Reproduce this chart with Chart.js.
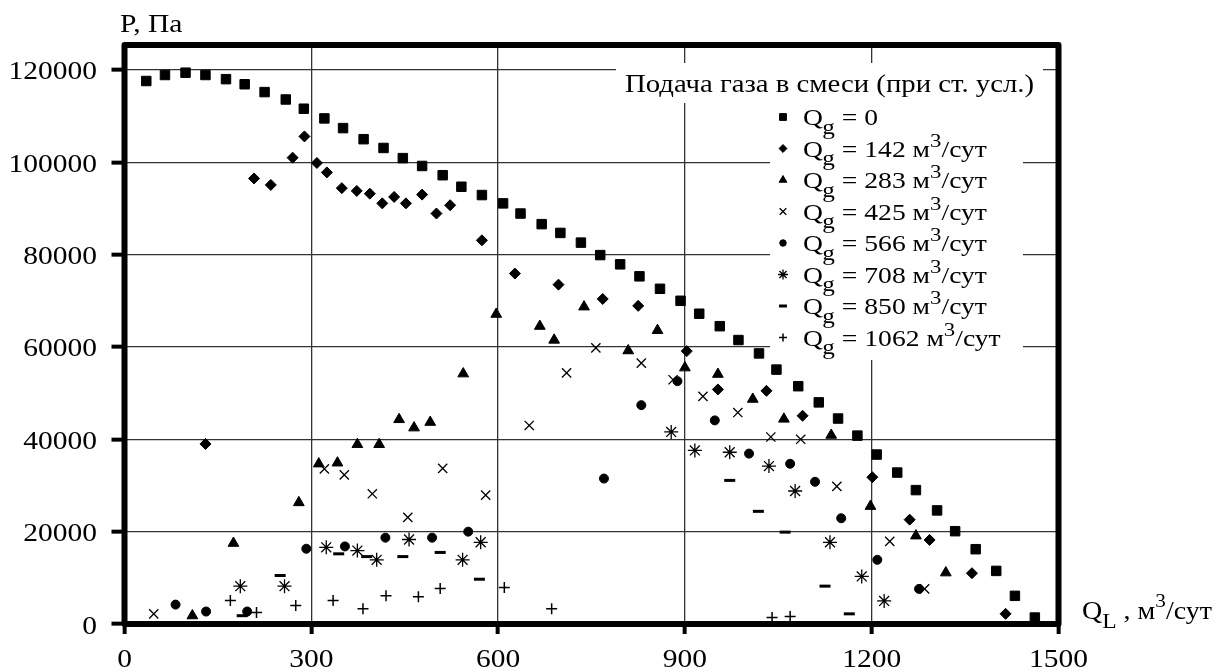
<!DOCTYPE html>
<html>
<head>
<meta charset="utf-8">
<script src="https://cdn.jsdelivr.net/npm/chart.js@4.4.1/dist/chart.umd.min.js"></script>
<style>
  html, body { margin: 0; padding: 0; background: #fff; }
  canvas { display: block; }
</style>
</head>
<body>
<canvas id="pressureChart" width="1227" height="672"></canvas>
<script>
// оси
const xTicks = [0, 300, 600, 900, 1200, 1500];
const yTicks = [0, 20000, 40000, 60000, 80000, 100000, 120000];

// подача газа Qg, м3/сут
const gasRates = ["0", "142", "283", "425", "566", "708", "850", "1062"];

// [QL, P] для каждой серии
const qg0 = [[35,117600],[65,118900],[98,119400],[130,118900],[163,118000],[193,116900],[225,115200],[259,113600],[288,111600],[321,109500],[351,107400],[384,105000],[416,103100],[447,100900],[478,99200],[511,97200],[541,94700],[574,92900],[608,91100],[636,88900],[670,86600],[700,84700],[733,82600],[764,79900],[796,77900],[827,75300],[860,72600],[893,70000],[923,67200],[956,64500],[986,61500],[1019,58600],[1047,55100],[1082,51500],[1115,48000],[1146,44500],[1177,40800],[1208,36700],[1241,32800],[1271,29000],[1305,24600],[1334,20100],[1367,16200],[1400,11500],[1430,6100],[1462,1400]];
const qg142 = [[130,39000],[208,96500],[235,95100],[270,101000],[289,105600],[309,99850],[325,97800],[349,94400],[373,93800],[394,93200],[414,91100],[433,92500],[452,91100],[478,93000],[501,88900],[523,90700],[574,83100],[627,75900],[697,73500],[768,70400],[825,68900],[903,59100],[953,50800],[1031,50500],[1089,45100],[1201,31800],[1261,22600],[1293,18200],[1361,11000],[1415,2200]];
const qg283 = [[109,1800],[175,17500],[280,26300],[312,34700],[342,34900],[374,38900],[409,38900],[441,44300],[465,42500],[491,43700],[544,54200],[597,67100],[667,64500],[690,61500],[738,68700],[809,59200],[856,63600],[900,55500],[953,54100],[1009,48700],[1059,44400],[1135,40900],[1198,25500],[1271,19100],[1319,11100]];
const qg425 = [[47,2200],[321,33600],[353,32300],[398,28200],[455,23100],[511,33700],[580,27900],[650,43000],[710,54400],[757,59800],[830,56500],[881,52900],[929,49300],[985,45800],[1038,40500],[1086,40000],[1144,29800],[1229,17900],[1285,7600]];
const qg566 = [[82,4200],[131,2700],[197,2700],[292,16300],[354,16800],[419,18700],[494,18700],[552,20000],[770,31500],[830,47400],[888,52600],[948,44100],[1003,36900],[1069,34700],[1109,30800],[1151,22900],[1209,13900],[1276,7600]];
const qg708 = [[186,8200],[257,8200],[324,16600],[374,15900],[405,13900],[457,18300],[543,13900],[572,17700],[878,41600],[916,37600],[972,37200],[1035,34200],[1077,28800],[1133,17700],[1184,10300],[1220,5000]];
const qg850 = [[189,1800],[250,10500],[344,15200],[389,14600],[447,14600],[507,15500],[570,9700],[972,31100],[1018,24400],[1061,19900],[1125,8200],[1164,2200]];
const qg1062 = [[170,5100],[212,2500],[275,4000],[335,5100],[383,3300],[420,6100],[472,5900],[507,7700],[610,7900],[686,3300],[1040,1400],[1069,1600]];

const seriesData = [qg0, qg142, qg283, qg425, qg566, qg708, qg850, qg1062];

// стиль маркеров
const markers = [
  { style: "rect", r: 6.7, w: 1 },
  { style: "rectRot", r: 5.5, w: 1 },
  { style: "triangle", r: 6.2, w: 1 },
  { style: "crossRot", r: 6.5, w: 1.3 },
  { style: "circle", r: 4.5, w: 1 },
  { style: "star", r: 7, w: 1.3 },
  { style: "line", r: 5.5, w: 3 },
  { style: "cross", r: 5.5, w: 1.5 },
];

const FONT = '"Liberation Serif", "Times New Roman", serif';

// текст, растянутый по горизонтали (шрифт в оригинале шире)
function richText(ctx, parts, x, y, sx) {
  ctx.save();
  ctx.translate(x, y);
  ctx.scale(sx, 1);
  let cx = 0;
  parts.forEach((p) => {
    ctx.font = p.size + "px " + FONT;
    ctx.fillText(p.t, cx + (p.dx || 0), p.dy || 0);
    cx += ctx.measureText(p.t).width + (p.dx || 0);
  });
  ctx.restore();
}

function tickText(ctx, t, x, y, align) {
  ctx.save();
  ctx.translate(x, y);
  ctx.scale(1.18, 1);
  ctx.font = "25px " + FONT;
  ctx.textAlign = align;
  ctx.fillText(t, 0, 0);
  ctx.restore();
}

// рамка, легенда, подписи
const framePlugin = {
  id: "frame",
  beforeDatasetsDraw(chart) {
    const ctx = chart.ctx;
    ctx.save();
    ctx.fillStyle = "#fff";
    ctx.fillRect(616, 63, 427, 40);
    ctx.fillRect(770, 103, 253, 257);
    ctx.restore();
  },
  afterDraw(chart) {
    const { ctx, chartArea: a, scales } = chart;
    ctx.save();
    ctx.strokeStyle = "#000";
    ctx.lineWidth = 6;
    ctx.lineJoin = "round";
    ctx.strokeRect(a.left, a.top, a.right - a.left, a.bottom - a.top);

    ctx.fillStyle = "#000";
    ctx.textAlign = "left";
    ctx.textBaseline = "alphabetic";

    // метки осей
    yTicks.forEach((v) => {
      tickText(ctx, String(v), 97, scales.y.getPixelForValue(v) + 9.5, "right");
    });
    xTicks.forEach((v) => {
      tickText(ctx, String(v), scales.x.getPixelForValue(v), 667, "center");
    });

    // подписи осей
    richText(ctx, [{ t: "P, Па", size: 25 }], 120, 32, 1.18);
    richText(ctx, [
      { t: "Q", size: 25 },
      { t: "L", size: 21, dy: 9 },
      { t: " , м", size: 25 },
      { t: "3", size: 19, dy: -12 },
      { t: "/сут", size: 25 },
    ], 1082, 619, 1.12);

    // легенда
    richText(ctx, [{ t: "Подача газа в смеси (при ст. усл.)", size: 25 }], 625, 92, 1.15);
    gasRates.forEach((g, i) => {
      const cy = 117 + i * 31.5;
      const m = markers[i];
      ctx.fillStyle = "#000";
      ctx.strokeStyle = "#000";
      ctx.lineWidth = m.w;
      Chart.helpers.drawPoint(ctx, { pointStyle: m.style, radius: m.r * 0.72, rotation: 0, borderWidth: m.w }, 783, cy);
      const parts = [
        { t: "Q", size: 23 },
        { t: "g", size: 21, dy: 8.5, dx: -0.5 },
      ];
      if (g === "0") {
        parts.push({ t: " = 0", size: 23 });
      } else {
        parts.push({ t: " = " + g + " м", size: 23 });
        parts.push({ t: "3", size: 19, dy: -10 });
        parts.push({ t: "/сут", size: 23 });
      }
      richText(ctx, parts, 803, cy + 8, 1.2);
    });
    ctx.restore();
  },
};

const ctx = document.getElementById("pressureChart").getContext("2d");
const myChart = new Chart(ctx, {
  type: "scatter",
  data: {
    datasets: seriesData.map((pts, i) => ({
      label: "Qg = " + gasRates[i],
      data: pts.map(([x, y]) => ({ x, y })),
      pointStyle: markers[i].style,
      pointRadius: markers[i].r,
      pointBorderWidth: markers[i].w,
      backgroundColor: "#000",
      borderColor: "#000",
      showLine: false,
      clip: false,
    })),
  },
  plugins: [framePlugin],
  options: {
    responsive: false,
    animation: false,
    devicePixelRatio: 1,
    events: [],
    layout: {
      padding: { top: 45, right: 168.5, bottom: 0, left: 0 },
    },
    plugins: {
      legend: { display: false },
      tooltip: { enabled: false },
    },
    scales: {
      x: {
        type: "linear",
        min: 0,
        max: 1500,
        afterBuildTicks: (scale) => {
          scale.ticks = xTicks.map((v) => ({ value: v }));
        },
        afterFit: (scale) => {
          scale.height = 48;
        },
        border: { display: false },
        grid: {
          color: "#333",
          lineWidth: 1.3,
          tickLength: 10,
          tickWidth: 4,
          tickColor: "#000",
        },
        ticks: { display: false },
      },
      y: {
        type: "linear",
        min: 0,
        max: 125400,
        afterBuildTicks: (scale) => {
          scale.ticks = yTicks.map((v) => ({ value: v }));
        },
        afterFit: (scale) => {
          scale.width = 124.5;
        },
        border: { display: false },
        grid: {
          color: "#333",
          lineWidth: 1.3,
          tickLength: 13,
          tickWidth: 4,
          tickColor: "#000",
        },
        ticks: { display: false },
      },
    },
  },
});
</script>
</body>
</html>
